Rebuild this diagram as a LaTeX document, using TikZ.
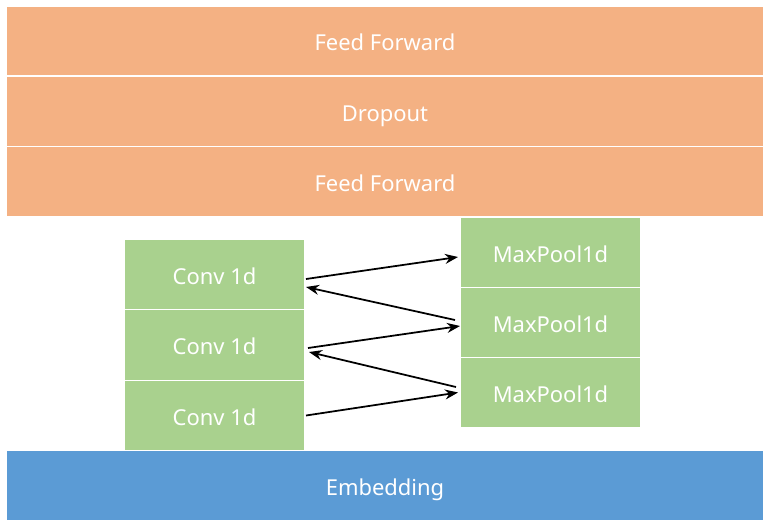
\documentclass[tikz,border=0pt]{standalone}
\usepackage{fontspec}
\setmainfont{Noto Sans}
\usetikzlibrary{positioning,arrows.meta}
\definecolor{ffcolor}{HTML}{F4B183}
\definecolor{convcolor}{HTML}{A9D18E}
\definecolor{embcolor}{HTML}{5B9BD5}

\begin{document}
\begin{tikzpicture}[
  x=0.02cm, y=-0.02cm,
  layer/.style={draw=white, line width=0.6pt, minimum width=15.14cm, minimum height=1.4cm,
    font=\fontsize{12.5}{14}\selectfont, text=white, inner sep=0pt, text height=11pt, text depth=0pt},
  block/.style={draw=white, line width=0.6pt, fill=convcolor, minimum width=3.6cm, minimum height=1.41cm,
    font=\fontsize{12.5}{14}\selectfont, text=white, inner sep=0pt, text height=11pt, text depth=0pt},
  link/.style={-{Stealth[length=2.6mm, width=2mm]}, line width=1pt},
  >=Stealth
]
  \useasboundingbox (0,0) rectangle (770,525);

  \node[layer, fill=ffcolor] (ff2) at (385,41) {Feed Forward};
  \node[layer, fill=ffcolor] (drop) at (385,111.5) {Dropout};
  \node[layer, fill=ffcolor] (ff1) at (385,181.5) {Feed Forward};

  \node[block] (conv1) at (214.5,274.5) {Conv 1d};
  \node[block] (conv2) at (214.5,345) {Conv 1d};
  \node[block] (conv3) at (214.5,415.5) {Conv 1d};

  \node[block] (pool1) at (550.5,252.5) {MaxPool1d};
  \node[block] (pool2) at (550.5,322.5) {MaxPool1d};
  \node[block] (pool3) at (550.5,392.5) {MaxPool1d};

  \node[layer, fill=embcolor] (emb) at (385,485.5) {Embedding};

  \draw[link] ([xshift=0.02cm, yshift=-0.09cm]conv1.east) -- ([xshift=-0.04cm, yshift=-0.09cm]pool1.west);
  \draw[link] ([xshift=-0.1cm, yshift=0.05cm]pool2.west) -- ([xshift=0.02cm, yshift=-0.25cm]conv1.east);
  \draw[link] ([xshift=0.06cm, yshift=-0.06cm]conv2.east) -- ([xshift=0.0cm, yshift=-0.07cm]pool2.west);
  \draw[link] ([xshift=-0.08cm, yshift=0.11cm]pool3.west) -- ([xshift=0.08cm, yshift=-0.14cm]conv2.east);
  \draw[link] ([xshift=0.02cm, yshift=0cm]conv3.east) -- ([xshift=-0.04cm, yshift=0cm]pool3.west);
\end{tikzpicture}
\end{document}
